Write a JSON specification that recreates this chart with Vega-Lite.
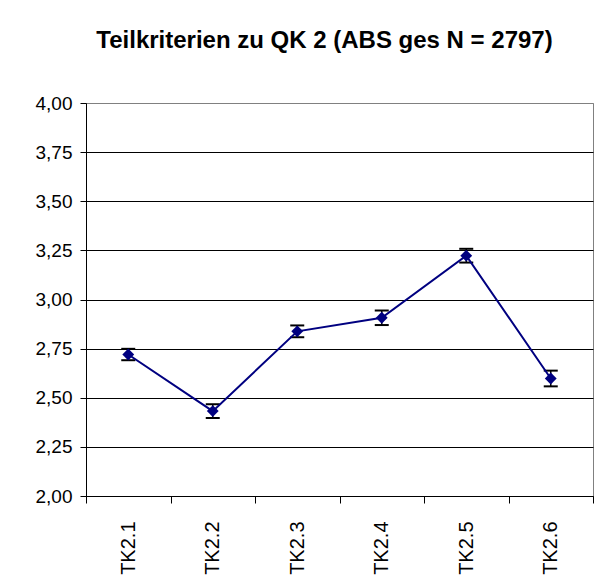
{
  "$schema": "https://vega.github.io/schema/vega-lite/v6.json",
  "width": 507,
  "height": 393,
  "autosize": "none",
  "padding": {"left": 86, "top": 103, "right": 10, "bottom": 85},
  "background": "white",
  "title": {
    "text": "Teilkriterien zu QK 2 (ABS ges N = 2797)",
    "font": "Liberation Sans",
    "fontSize": 24,
    "fontWeight": "bold",
    "color": "black",
    "anchor": "middle",
    "dx": -15,
    "baseline": "bottom",
    "offset": 17
  },
  "config": {
    "view": {"stroke": "#808080", "strokeWidth": 1, "fill": "white"},
    "font": "Liberation Sans"
  },
  "data": {
    "values": [
      {"tk": "TK2.1", "mean": 2.720, "lo": 2.691, "hi": 2.749},
      {"tk": "TK2.2", "mean": 2.432, "lo": 2.397, "hi": 2.467},
      {"tk": "TK2.3", "mean": 2.838, "lo": 2.808, "hi": 2.868},
      {"tk": "TK2.4", "mean": 2.907, "lo": 2.870, "hi": 2.944},
      {"tk": "TK2.5", "mean": 3.223, "lo": 3.188, "hi": 3.258},
      {"tk": "TK2.6", "mean": 2.598, "lo": 2.558, "hi": 2.638}
    ]
  },
  "encoding": {
    "x": {
      "field": "tk",
      "type": "nominal",
      "sort": null,
      "scale": {"paddingInner": 0, "paddingOuter": 0},
      "axis": {
        "title": null,
        "labelAngle": -90,
        "labelFont": "Liberation Sans",
        "labelFontSize": 20,
        "labelColor": "black",
        "labelPadding": 18,
        "tickBand": "extent",
        "tickSize": 7,
        "tickColor": "black",
        "domainColor": "black",
        "grid": false
      }
    }
  },
  "layer": [
    {
      "mark": {"type": "rule", "color": "black", "strokeWidth": 1.5},
      "encoding": {
        "y": {
          "field": "lo",
          "type": "quantitative",
          "scale": {"domain": [2, 4], "nice": false, "zero": false},
          "axis": {
            "title": null,
            "values": [2, 2.25, 2.5, 2.75, 3, 3.25, 3.5, 3.75, 4],
            "labelExpr": "replace(format(datum.value, '.2f'), '.', ',')",
            "labelFont": "Liberation Sans",
            "labelFontSize": 19,
            "labelColor": "black",
            "labelPadding": 8,
            "tickSize": 6,
            "tickColor": "black",
            "domainColor": "black",
            "grid": true,
            "gridColor": {"condition": {"test": "datum.value == 4", "value": "#808080"}, "value": "black"},
            "gridWidth": 1
          }
        },
        "y2": {"field": "hi"}
      }
    },
    {
      "mark": {"type": "tick", "orient": "horizontal", "color": "black", "size": 14, "thickness": 2, "opacity": 1},
      "encoding": {"y": {"field": "lo", "type": "quantitative"}}
    },
    {
      "mark": {"type": "tick", "orient": "horizontal", "color": "black", "size": 14, "thickness": 2, "opacity": 1},
      "encoding": {"y": {"field": "hi", "type": "quantitative"}}
    },
    {
      "mark": {"type": "line", "color": "#000080", "strokeWidth": 2},
      "encoding": {"y": {"field": "mean", "type": "quantitative"}}
    },
    {
      "mark": {"type": "point", "shape": "diamond", "filled": true, "color": "#000080", "size": 140, "opacity": 1},
      "encoding": {"y": {"field": "mean", "type": "quantitative"}}
    }
  ]
}
